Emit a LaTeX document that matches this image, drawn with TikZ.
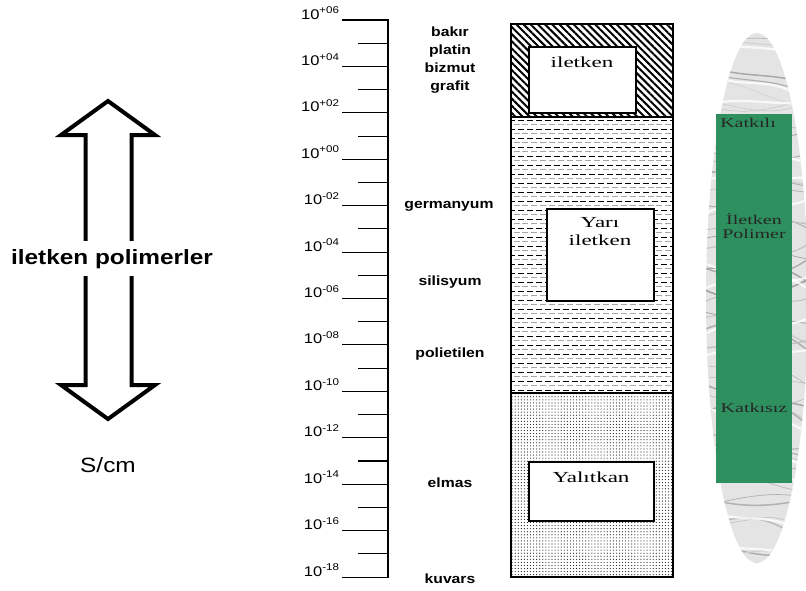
\documentclass[tikz,border=0pt]{standalone}
\usepackage{fontspec}
\setmainfont{Liberation Serif}
\newfontfamily\labsans[FakeStretch=1.18]{Liberation Sans}
\newfontfamily\wideserif[FakeStretch=1.5]{Liberation Serif}
\usetikzlibrary{patterns.meta}
\definecolor{polygreen}{RGB}{46,143,95}
\definecolor{marble}{RGB}{228,228,228}
\tikzset{
  ticklab/.style={font=\labsans\fontsize{10.5}{12}\selectfont, anchor=base east, inner sep=0pt},
  matlab/.style={font=\labsans\bfseries\fontsize{10}{12}\selectfont, anchor=base, inner sep=0pt},
  boxtext/.style={font=\wideserif\fontsize{11.5}{13}\selectfont, anchor=base, inner sep=0pt},
  greentext/.style={font=\wideserif\fontsize{10}{12}\selectfont, anchor=base, inner sep=0pt, text=black!85},
  innerbox/.style={draw=black, line width=0.8pt, fill=white},
  majortick/.style={line width=0.8pt},
  vein/.style={draw=gray!60, line width=0.5pt},
  lightvein/.style={draw=gray!35, line width=1.4pt}
}
\begin{document}
\begin{tikzpicture}[x=0.75pt,y=-0.75pt]
\useasboundingbox (0,0) rectangle (806,590);

% ---- left hollow double arrow ----
\draw[line width=3pt, line join=miter] (108,101) -- (155,135) -- (131.5,135) -- (131.5,385)
  -- (155,385) -- (108,419) -- (61,385) -- (85.5,385) -- (85.5,135) -- (61,135) -- cycle;
\node[font=\labsans\bfseries\fontsize{15.5}{18}\selectfont, anchor=base, fill=white,
  inner xsep=2pt, inner ysep=6pt] (polym) at (112,264) {iletken polimerler};
\node[font=\labsans\fontsize{15.5}{18}\selectfont, anchor=base, inner sep=0pt] (unit) at (108,472) {S/cm};

% ---- scale axis ----
\draw[line width=1.4pt] (388,19) -- (388,578);
\foreach \k/\e in {0/+06,1/+04,2/+02,3/+00,4/-02,5/-04,6/-06,7/-08,8/-10,9/-12,10/-14,11/-16,12/-18}{
  \pgfmathsetmacro\yy{20+\k*46.42}
  \draw[majortick] (342,\yy) -- (388,\yy);
  \node[ticklab] (t\k) at (340,\yy-1) {10\textsuperscript{\e}};
}
\foreach \k in {0,...,11}{
  \pgfmathsetmacro\yy{20+(\k+0.5)*46.42}
  \draw[majortick] (358,\yy) -- (388,\yy);
}

% ---- material labels ----
\node[matlab] (bakir) at (450,36) {bakır};
\node[matlab] (platin) at (450,54) {platin};
\node[matlab] (bizmut) at (450,72) {bizmut};
\node[matlab] (grafit) at (450,90) {grafit};
\node[matlab] (germ) at (449,208) {germanyum};
\node[matlab] (sili) at (450,285) {silisyum};
\node[matlab] (poli) at (450,357) {polietilen};
\node[matlab] (elmas) at (450,487) {elmas};
\node[matlab] (kuvars) at (450,583) {kuvars};

% ---- column ----
\fill[pattern={Lines[angle=-45,distance=3.8pt,line width=1.5pt]}, pattern color=black] (511,24) rectangle (673,117);
\begin{scope}
  \clip (511,117) rectangle (673,393);
  \foreach \i in {0,...,30}{
    \pgfmathsetmacro\yy{120+\i*9}
    \draw[black, line width=0.7pt, dash pattern=on 4.5pt off 2.2pt] (509,\yy) -- (675,\yy);
    \draw[gray!70, line width=0.7pt, dash pattern=on 4.5pt off 2.2pt, dash phase=3.3pt] (509,\yy+4.5) -- (675,\yy+4.5);
  }
\end{scope}
\fill[pattern={Dots[distance=2.3pt,radius=0.45pt]}, pattern color=black!85] (511,393) rectangle (673,577);
\draw[line width=0.8pt] (511,24) rectangle (673,577);
\draw[line width=0.8pt] (511,117) -- (673,117);
\draw[line width=0.8pt] (511,393) -- (673,393);

\draw[innerbox] (529,47) rectangle (636,113);
\node[boxtext] (iletken) at (582,67) {iletken};
\draw[innerbox] (547,209) rectangle (654,301);
\node[boxtext] (yari) at (600,227) {Yarı};
\node[boxtext] (yari2) at (600,245) {iletken};
\draw[innerbox] (529,462) rectangle (654,521);
\node[boxtext] (yalit) at (591,482) {Yalıtkan};

% ---- marble ellipse ----
\begin{scope}
  \clip (757,298) ellipse [x radius=38.25pt, y radius=198.75pt];
  \fill[marble] (700,30) rectangle (810,570);
  \pgfmathsetseed{11}
  \foreach \i in {0,...,44}{
    \pgfmathsetmacro\ya{35+\i*12+rand*6}
    \pgfmathsetmacro\yb{\ya+rand*25}
    \pgfmathsetmacro\yc{\ya+rand*25}
    \pgfmathsetmacro\yd{\ya+rand*20+10}
    \pgfmathsetmacro\gv{int(35+abs(rnd*40))}
    \pgfmathsetmacro\lw{0.3+rnd*0.9}
    \draw[draw=gray!\gv, line width=\lw pt] (700,\ya) .. controls (735,\yb) and (775,\yc) .. (810,\yd);
  }
  \foreach \i in {0,...,14}{
    \pgfmathsetmacro\ya{40+\i*36+rand*10}
    \pgfmathsetmacro\yb{\ya+rand*30}
    \draw[draw=white, line width=1.6pt, opacity=0.8] (700,\ya) .. controls (740,\yb) and (770,\ya) .. (810,\yb+8);
  }
\end{scope}
\fill[polygreen] (716,114) rectangle (792,483);
\node[greentext, anchor=base west] (katkili) at (720,127) {Katkılı};
\node[greentext] (ilet) at (754,224) {İletken};
\node[greentext] (polimer) at (754,238) {Polimer};
\node[greentext] (katkisiz) at (754,412) {Katkısız};
\end{tikzpicture}
\end{document}
